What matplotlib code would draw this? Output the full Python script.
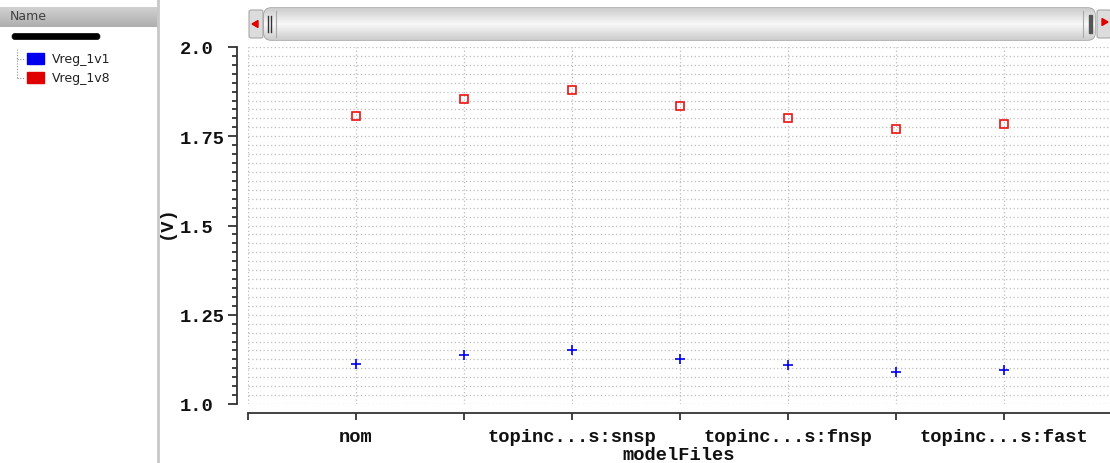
import matplotlib
matplotlib.use("Agg")
import matplotlib.pyplot as plt
import numpy as np
from matplotlib.patches import FancyBboxPatch, Rectangle, Polygon

# ---------------- data ----------------
categories = ["nom", "topinc...s:ss", "topinc...s:snsp", "topinc...s:sf",
              "topinc...s:fnsp", "topinc...s:ff", "topinc...s:fast"]
shown_labels = ["nom", "", "topinc...s:snsp", "", "topinc...s:fnsp", "", "topinc...s:fast"]
vreg_1v8 = [1.807, 1.853, 1.879, 1.836, 1.802, 1.771, 1.785]
vreg_1v1 = [1.113, 1.138, 1.151, 1.126, 1.109, 1.090, 1.096]
ytick_vals = [1.0, 1.25, 1.5, 1.75, 2.0]
ytick_labels = ["1.0", "1.25", "1.5", "1.75", "2.0"]
series_names = ["Vreg_1v1", "Vreg_1v8"]
series_colors = ["#0000ee", "#e00000"]

W, H = 1110, 464
DPI = 100
fig = plt.figure(figsize=(W / DPI, H / DPI), dpi=DPI)
fig.patch.set_facecolor("white")

def px2pt(p):
    return p * 72.0 / DPI

# ---------------- main axes ----------------
ax_l, ax_r, ax_t, ax_b = 248, 1110, 48, 405
ax = fig.add_axes([ax_l / W, 1 - ax_b / H, (ax_r - ax_l) / W, (ax_b - ax_t) / H])
x = np.arange(len(categories))
spacing = 108.0
ax.set_xlim(-1, -1 + (ax_r - ax_l) / spacing)
ax.set_ylim(1.0, 2.0)

ax.plot(x, vreg_1v8, linestyle="none", marker="s", markersize=6, markerfacecolor="none",
        markeredgecolor="#ee1111", markeredgewidth=1.2, zorder=5)
ax.plot(x, vreg_1v1, linestyle="none", marker="+", markersize=7.5,
        markeredgecolor="#0000ee", markeredgewidth=1.2, zorder=5)

# grid
for yv in np.arange(1.0, 2.0001, 0.025):
    ax.axhline(yv, color="#bdbdbd", linestyle=(0, (1, 2)), linewidth=0.9, zorder=1)
for xv in range(-1, len(categories)):
    ax.axvline(xv, color="#bdbdbd", linestyle=(0, (1, 2)), linewidth=0.9, zorder=1)

for s in ["top", "right"]:
    ax.spines[s].set_visible(False)
ax.spines["left"].set_position(("outward", px2pt(11)))
ax.spines["bottom"].set_position(("outward", px2pt(9)))
ax.spines["left"].set_bounds(1.0, 2.0)
for s in ["left", "bottom"]:
    ax.spines[s].set_color("#333333")
    ax.spines[s].set_linewidth(1.3)

ax.set_yticks(ytick_vals)
ax.set_yticks(np.arange(1.0, 2.0001, 0.025), minor=True)
ax.set_xticks(list(range(-1, len(categories))))

ax.tick_params(axis="y", which="major", length=px2pt(9), width=1.3, color="#333333",
               pad=px2pt(48))
ax.tick_params(axis="y", which="minor", length=px2pt(5), width=1.3, color="#333333")
ax.tick_params(axis="x", which="major", length=px2pt(7), width=1.3, color="#333333",
               pad=px2pt(8))

mono = "Liberation Mono"
ax.set_yticklabels(ytick_labels, fontfamily=mono, fontweight="bold", fontsize=13.5,
                   ha="left", color="#111111")
ax.set_xticklabels([""] + shown_labels, fontfamily=mono, fontweight="bold", fontsize=13.5,
                   color="#111111")

ax.set_ylabel("(V)", fontfamily=mono, fontweight="bold", fontsize=13.5, color="#111111")
ax.yaxis.set_label_coords((175 - ax_l) / (ax_r - ax_l), 0.5 + 4 / (ax_b - ax_t))
ax.set_xlabel("modelFiles", fontfamily=mono, fontweight="bold", fontsize=13.5, labelpad=1,
              color="#111111")

# ---------------- overlay for decorations (pixel coords) ----------------
ov = fig.add_axes([0, 0, 1, 1], zorder=10)
ov.set_xlim(0, W)
ov.set_ylim(H, 0)
ov.axis("off")
ov.patch.set_alpha(0)

# left panel separator
ov.plot([158, 158], [0, H], color="#c8c8c8", linewidth=2)
# header "Name"
grad = np.linspace(0.82, 0.68, 50).reshape(-1, 1)
ov.imshow(grad, extent=(0, 158, 28, 8), cmap="gray", vmin=0, vmax=1, aspect="auto",
          interpolation="bicubic", zorder=1)
ov.text(10, 17, "Name", fontsize=9, color="#404040", va="center", ha="left",
        family="DejaVu Sans")
# black rounded bar
ov.add_patch(FancyBboxPatch((12, 34.5), 88, 6, boxstyle="round,pad=0,rounding_size=3",
                            facecolor="black", edgecolor="black", linewidth=0.5))
# tree lines
ov.plot([17, 17], [50, 79], color="#909090", linestyle=(0, (1, 1.5)), linewidth=0.8)
ov.plot([17, 25], [60, 60], color="#909090", linestyle=(0, (1, 1.5)), linewidth=0.8)
ov.plot([17, 25], [79, 79], color="#909090", linestyle=(0, (1, 1.5)), linewidth=0.8)
for i, (nm, col) in enumerate(zip(series_names, series_colors)):
    yc = 59.5 + i * 19
    ov.add_patch(Rectangle((27, yc - 5.5), 17, 11, facecolor=col, edgecolor=col))
    ov.text(52, yc, nm, fontsize=9, color="#222222", va="center", ha="left",
            family="DejaVu Sans")

# scrollbar
sb_t, sb_b = 9, 41
grad2 = np.concatenate([np.linspace(0.80, 0.97, 20), np.linspace(0.97, 0.80, 20)]).reshape(-1, 1)
# left button
ov.add_patch(FancyBboxPatch((249, sb_t + 2), 14, sb_b - sb_t - 4, boxstyle="round,pad=0,rounding_size=2",
                            facecolor="#dcdcdc", edgecolor="#a8a8a8", linewidth=0.8))
ov.add_patch(Polygon([[252, 25], [258, 21.5], [258, 28.5]], closed=True, facecolor="#e00000",
                     edgecolor="#e00000"))
# right button
ov.add_patch(FancyBboxPatch((1097, sb_t + 2), 14, sb_b - sb_t - 4, boxstyle="round,pad=0,rounding_size=2",
                            facecolor="#dcdcdc", edgecolor="#a8a8a8", linewidth=0.8))
ov.add_patch(Polygon([[1108, 23], [1102, 19.5], [1102, 26.5]], closed=True, facecolor="#e00000",
                     edgecolor="#e00000"))
# thumb
thumb = FancyBboxPatch((264, sb_t), 831, sb_b - sb_t, boxstyle="round,pad=0,rounding_size=7",
                       facecolor="none", edgecolor="#9a9a9a", linewidth=1.0)
ov.add_patch(thumb)
im = ov.imshow(grad2, extent=(264, 1095, sb_b, sb_t), cmap="gray", vmin=0, vmax=1,
               aspect="auto", interpolation="bicubic", zorder=1)
im.set_clip_path(thumb)
# grips
for gx in (268, 271):
    ov.plot([gx, gx], [17, 33], color="#333333", linewidth=1.0)
ov.plot([276, 276], [12, 38], color="#aaaaaa", linewidth=0.8)
ov.plot([1083, 1083], [12, 38], color="#aaaaaa", linewidth=0.8)
ov.add_patch(Rectangle((1088.5, 16), 3.5, 18, facecolor="#555555", edgecolor="#555555"))

fig.savefig("out.png", dpi=DPI, facecolor="white")
